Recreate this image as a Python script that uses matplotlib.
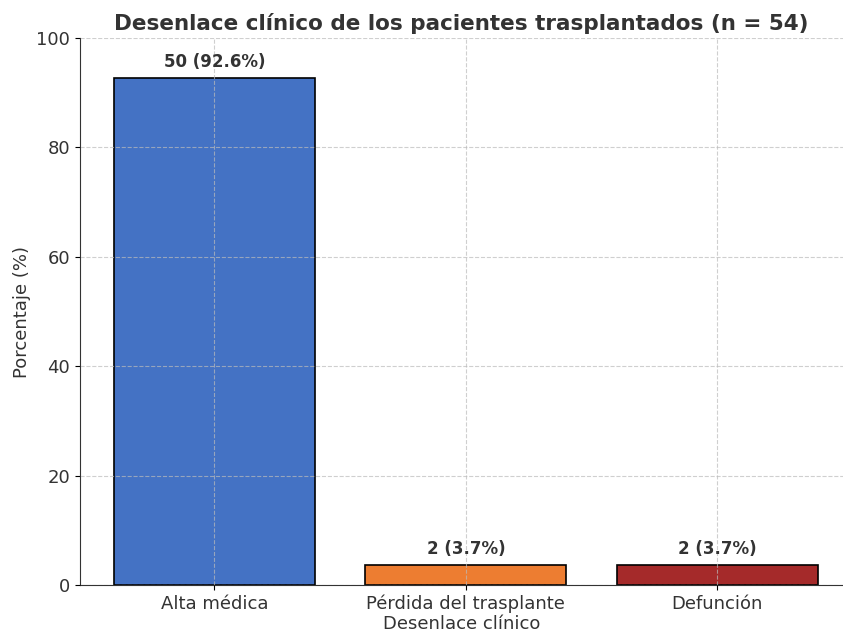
import matplotlib
matplotlib.use("Agg")
import matplotlib.pyplot as plt

categories = ["Alta médica", "Pérdida del trasplante", "Defunción"]
counts = [50, 2, 2]
percents = [92.6, 3.7, 3.7]
colors = ["#4472C4", "#ED7D31", "#A52A2A"]
total = 54

plt.rcParams['font.family'] = ['DejaVu Sans']
txt = "#333333"

fig = plt.figure(figsize=(8.43, 6.33), dpi=100)
ax = fig.add_axes([80/843, 1 - 585/633, (843 - 80)/843, (585 - 38)/633])

x = list(range(len(categories)))
bars = ax.bar(x, percents, width=0.8, color=colors, edgecolor="black", linewidth=1.2)
for xi, c, p in zip(x, counts, percents):
    ax.text(xi, p + 1.3, f"{c} ({p}%)", ha="center", va="bottom",
            fontsize=12, fontweight="bold", color=txt)

ax.set_xticks(x)
ax.set_xticklabels(categories, fontsize=13, color=txt)
ax.set_xlim(-0.535, 2.5)
ax.set_ylim(0, 100)
ax.set_yticks([0, 20, 40, 60, 80, 100])
ax.tick_params(axis="y", labelsize=13, labelcolor=txt)
ax.set_xlabel("Desenlace clínico", fontsize=13, color=txt, labelpad=1)
ax.set_ylabel("Porcentaje (%)", fontsize=13, color=txt)
ax.set_title(f"Desenlace clínico de los pacientes trasplantados (n = {total})",
             fontsize=15.5, fontweight="bold", color=txt, pad=6)
ax.grid(True, linestyle="--", color="#bbbbbb", alpha=0.7, linewidth=0.8)
ax.set_axisbelow(False)
for s in ["top", "right"]:
    ax.spines[s].set_visible(False)
for s in ["left", "bottom"]:
    ax.spines[s].set_color(txt)

fig.savefig("out.png", dpi=100)
